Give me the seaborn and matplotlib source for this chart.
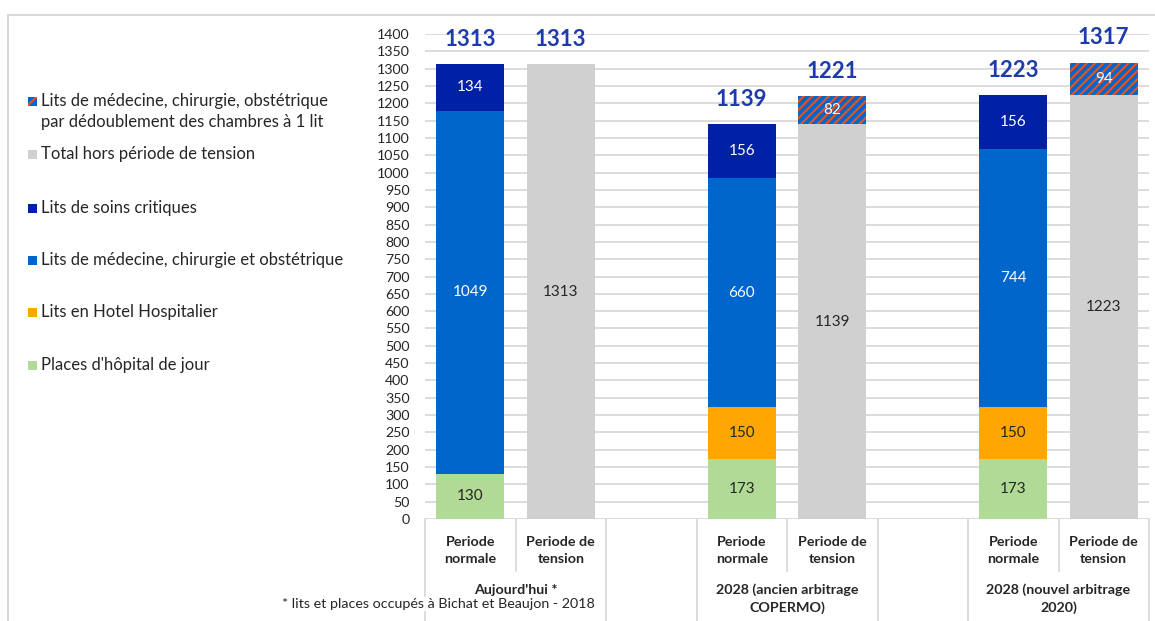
import matplotlib
matplotlib.use("Agg")
import matplotlib.pyplot as plt
import matplotlib.transforms as mtransforms
from matplotlib.lines import Line2D
from matplotlib.patches import Rectangle
import seaborn as sns
import pandas as pd

# ---------------- data ----------------
slot_order = ["n1", "t1", "gap1", "n2", "t2", "gap2", "n3", "t3"]
normal_slots = ["n1", "n2", "n3"]
tension_slots = ["t1", "t2", "t3"]

hopital_jour = [130, 173, 173]
hotel_hosp = [0, 150, 150]
mco = [1049, 660, 744]
soins_critiques = [134, 156, 156]

total_hors_tension = [1313, 1139, 1223]
dedoublement = [0, 82, 94]

sub_labels = ["Periode\nnormale", "Periode de\ntension"]
group_labels = ["Aujourd'hui *", "2028 (ancien arbitrage\nCOPERMO)", "2028 (nouvel arbitrage\n2020)"]
legend_labels = [
    "Lits de médecine, chirurgie, obstétrique\npar dédoublement des chambres à 1 lit",
    "Total hors période de tension",
    "Lits de soins critiques",
    "Lits de médecine, chirurgie et obstétrique",
    "Lits en Hotel Hospitalier",
    "Places d'hôpital de jour",
]
footnote = "* lits et places occupés à Bichat et Beaujon - 2018"

# ---------------- style ----------------
C_GREEN = "#B1DA96"
C_ORANGE = "#FFA600"
C_BLUE = "#0066CC"
C_DARK = "#0020A6"
C_GREY = "#D0D0D0"
C_RED = "#E8501E"
C_TOTAL = "#1D3BAA"
C_TEXT = "#262626"
C_GRID = "#D9D9D9"

sns.set_theme(style="white")
plt.rcParams["font.family"] = ["Lato", "DejaVu Sans"]
plt.rcParams["hatch.linewidth"] = 1.6

W, H = 1155, 621
fig = plt.figure(figsize=(W / 100, H / 100), dpi=100)
ax_left, ax_right = 425 / W, 1149 / W
ax_bottom, ax_top = (H - 519) / H, (H - 34) / H
ax = fig.add_axes([ax_left, ax_bottom, ax_right - ax_left, ax_top - ax_bottom])

# ---------------- stacked bars (overdraw of cumulative sums) ----------------
def cum(*arrs):
    return [sum(v) for v in zip(*arrs)]

def layer(slots, values, color, **kw):
    df = pd.DataFrame(list(zip(slots, values)), columns=["slot", "val"])
    sns.barplot(data=df, x="slot", y="val", order=slot_order, color=color,
                saturation=1, width=0.755, errorbar=None, ax=ax,
                linewidth=0, **kw)

top_n = cum(hopital_jour, hotel_hosp, mco, soins_critiques)
lvl3 = cum(hopital_jour, hotel_hosp, mco)
lvl2 = cum(hopital_jour, hotel_hosp)
top_t = cum(total_hors_tension, dedoublement)

layer(normal_slots, top_n, C_DARK)
layer(normal_slots, lvl3, C_BLUE)
sel = [(s, v) for s, v, h in zip(normal_slots, lvl2, hotel_hosp) if h > 0]
layer([s for s, _ in sel], [v for _, v in sel], C_ORANGE)
layer(normal_slots, hopital_jour, C_GREEN)
sel = [(s, v) for s, v, d in zip(tension_slots, top_t, dedoublement) if d > 0]
layer([s for s, _ in sel], [v for _, v in sel], C_BLUE, hatch="////", edgecolor=C_RED)
layer(tension_slots, total_hors_tension, C_GREY)

# ---------------- axes ----------------
ax.set_xlim(-0.5, len(slot_order) - 0.5)
ax.set_ylim(0, 1400)
ax.set_yticks(range(0, 1401, 50))
ax.tick_params(axis="y", length=0, pad=11, labelsize=10.2, labelcolor=C_TEXT)
ax.set_xticks([])
ax.set_xlabel("")
ax.set_ylabel("")
for sp in ax.spines.values():
    sp.set_visible(False)
ax.yaxis.grid(True, color=C_GRID, linewidth=1.3)
ax.set_axisbelow(True)

pos = {s: i for i, s in enumerate(slot_order)}

# ---------------- value labels ----------------
def seg_label(x, bottom, height, color):
    if height <= 0:
        return
    ax.text(x, bottom + height / 2, f"{height}", ha="center", va="center",
            fontsize=11, color=color)

for i, s in enumerate(normal_slots):
    x = pos[s]
    seg_label(x, 0, hopital_jour[i], C_TEXT)
    seg_label(x, hopital_jour[i], hotel_hosp[i], C_TEXT)
    seg_label(x, lvl2[i], mco[i], "white")
    seg_label(x, lvl3[i], soins_critiques[i], "white")
    ax.annotate(f"{top_n[i]}", (x, top_n[i]), xytext=(0, 18), textcoords="offset points",
                ha="center", va="center", fontsize=16, fontweight="bold",
                color=C_TOTAL, annotation_clip=False)

for i, s in enumerate(tension_slots):
    x = pos[s]
    seg_label(x, 0, total_hors_tension[i], C_TEXT)
    seg_label(x, total_hors_tension[i], dedoublement[i], "white")
    ax.annotate(f"{top_t[i]}", (x, top_t[i]), xytext=(0, 18), textcoords="offset points",
                ha="center", va="center", fontsize=16, fontweight="bold",
                color=C_TOTAL, annotation_clip=False)

# ---------------- multi-level category axis ----------------
trans = mtransforms.blended_transform_factory(ax.transData, ax.transAxes)
ah = 519 - 34
def ypx(px):  # pixel row -> axes fraction
    return (519 - px) / ah

full_lines = [-0.5, 1.5, 2.5, 4.5, 5.5, 7.5]
part_lines = [0.5, 3.5, 6.5]
for xl in full_lines:
    ax.add_line(Line2D([xl, xl], [0, ypx(621)], transform=trans, color=C_GRID,
                       lw=1.3, clip_on=False))
for xl in part_lines:
    ax.add_line(Line2D([xl, xl], [0, ypx(571)], transform=trans, color=C_GRID,
                       lw=1.3, clip_on=False))

groups = [("n1", "t1"), ("n2", "t2"), ("n3", "t3")]
for g, (a, b) in enumerate(groups):
    for k, s in enumerate((a, b)):
        ax.text(pos[s], ypx(550.5), sub_labels[k], transform=trans, ha="center",
                va="center", fontsize=10.3, fontweight="bold", color=C_TEXT,
                linespacing=1.55)
    ax.text((pos[a] + pos[b]) / 2, ypx(583.5), group_labels[g], transform=trans,
            ha="center", va="top", fontsize=10.3, fontweight="bold", color=C_TEXT,
            linespacing=1.5)

fig.text(438 / W, 1 - 604 / H, footnote, ha="center", va="center", fontsize=10.3,
         color=C_TEXT, bbox=dict(facecolor="white", edgecolor="none", pad=0.5))

# ---------------- legend (left column) ----------------
leg_colors = [None, C_GREY, C_DARK, C_BLUE, C_ORANGE, C_GREEN]
leg_y = [101, 154, 208, 260, 312, 365]
for lab, col, yy in zip(legend_labels, leg_colors, leg_y):
    if col is None:
        r = Rectangle((28 / W, 1 - (yy + 4.5) / H), 9 / W, 9 / H, transform=fig.transFigure,
                      facecolor=C_BLUE, edgecolor=C_RED, hatch="///", linewidth=0)
    else:
        r = Rectangle((28 / W, 1 - (yy + 4.5) / H), 9 / W, 9 / H, transform=fig.transFigure,
                      facecolor=col, edgecolor="none")
    fig.add_artist(r)
    fig.text(41 / W, 1 - (yy - 8) / H, lab, ha="left", va="top", fontsize=12,
             color=C_TEXT, linespacing=1.35)

# ---------------- frame ----------------
fig.add_artist(Line2D([8 / W, 1], [1 - 15 / H, 1 - 15 / H], transform=fig.transFigure,
                      color=C_GRID, lw=1.5))
fig.add_artist(Line2D([8 / W, 8 / W], [0, 1 - 15 / H], transform=fig.transFigure,
                      color=C_GRID, lw=1.5))

fig.savefig("out.png", dpi=100)
